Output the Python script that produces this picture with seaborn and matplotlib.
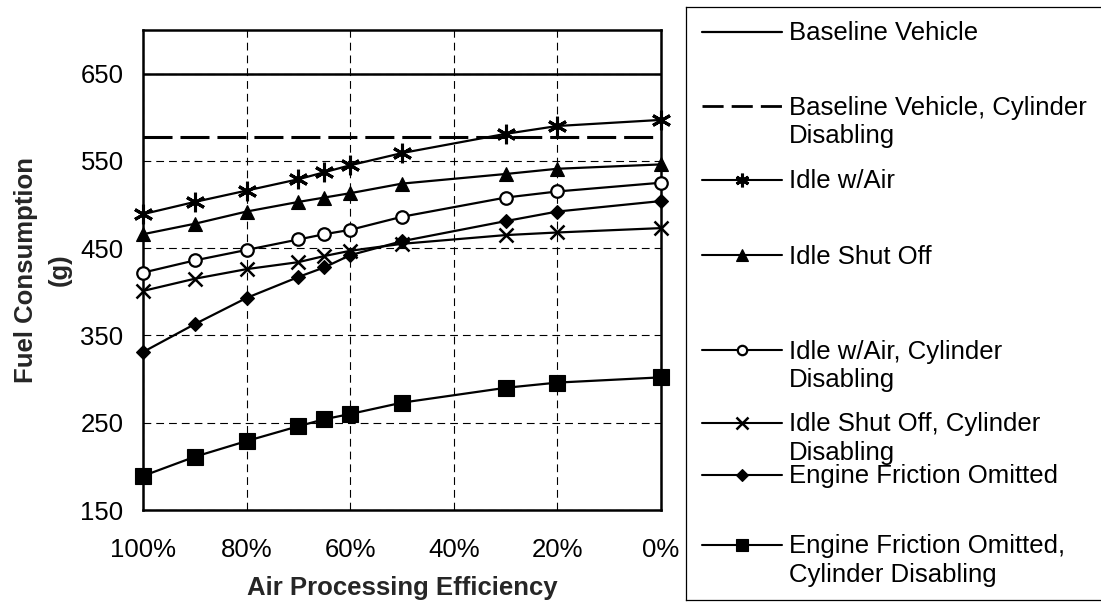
import matplotlib
matplotlib.use("Agg")
import matplotlib.pyplot as plt
from matplotlib.ticker import MultipleLocator, FixedLocator
import numpy as np
import pandas as pd
import seaborn as sns

# ---- data -------------------------------------------------------------
efficiency = [100, 90, 80, 70, 65, 60, 50, 30, 20, 0]          # Air processing efficiency, %
baseline = 650                                                  # Baseline vehicle, g
baseline_cyl = 577                                              # Baseline vehicle w/ cylinder disabling, g
idle_air = [489, 503, 516, 529, 537, 545, 559, 581, 590, 597]
idle_off = [466, 478, 492, 503, 508, 513, 524, 535, 541, 546]
idle_air_cyl = [422, 436, 448, 460, 466, 471, 486, 508, 515, 525]
idle_off_cyl = [401, 415, 426, 434, 441, 447, 455, 465, 468, 473]
friction = [331, 363, 393, 417, 428, 442, 458, 481, 492, 504]
friction_cyl = [189, 211, 229, 246, 254, 260, 273, 290, 296, 302]

x_ticks = [100, 80, 60, 40, 20, 0]
y_ticks = [150, 250, 350, 450, 550, 650]

labels = [
    "Baseline Vehicle",
    "Baseline Vehicle, Cylinder\nDisabling",
    "Idle w/Air",
    "Idle Shut Off",
    "Idle w/Air, Cylinder\nDisabling",
    "Idle Shut Off, Cylinder\nDisabling",
    "Engine Friction Omitted",
    "Engine Friction Omitted,\nCylinder Disabling",
]

# ---- style ------------------------------------------------------------
sns.set_style("white")
plt.rcParams["font.family"] = ["Liberation Sans", "DejaVu Sans"]
FS = 18.5

asterisk = (6, 2, 0)
series = [
    (idle_air,     dict(marker=asterisk, markersize=14, markeredgewidth=2.2)),
    (idle_off,     dict(marker="^", markersize=10, markeredgewidth=0.8)),
    (idle_air_cyl, dict(marker="o", markersize=9, markerfacecolor="white", markeredgewidth=1.6)),
    (idle_off_cyl, dict(marker="x", markersize=10, markeredgewidth=1.8)),
    (friction,     dict(marker="D", markersize=7, markeredgewidth=0.8)),
    (friction_cyl, dict(marker="s", markersize=11, markeredgewidth=0.8)),
]

W, H = 1101, 602
fig = plt.figure(figsize=(W / 100, H / 100), dpi=100)
ax = fig.add_axes([143 / W, 1 - 510 / H, (661 - 143) / W, (510 - 30) / H])

# ---- plot -------------------------------------------------------------
ax.axhline(baseline, color="black", lw=1.8, zorder=3)
ax.axhline(baseline_cyl, color="black", lw=2.2, dashes=(9.5, 2.6), zorder=3)
for values, style in series:
    df = pd.DataFrame({"eff": efficiency, "fuel": values})
    sns.lineplot(data=df, x="eff", y="fuel", ax=ax, color="black", lw=1.6,
                 markeredgecolor="black", clip_on=False, zorder=4, **style)

ax.set_xlim(100, 0)
ax.set_ylim(150, 700)
ax.xaxis.set_major_locator(FixedLocator(x_ticks))
ax.set_xticklabels([f"{v}%" for v in x_ticks])
ax.xaxis.set_minor_locator(MultipleLocator(4))
ax.yaxis.set_major_locator(FixedLocator(y_ticks))
ax.yaxis.set_minor_locator(MultipleLocator(20))

ax.tick_params(which="both", direction="in", color="black", width=1.2,
               labelsize=FS, labelcolor="black")
ax.tick_params(axis="x", which="both", length=6, pad=20)
ax.tick_params(axis="y", which="both", length=6, pad=14)

ax.grid(True, which="major", color="black", lw=0.8, linestyle=(0, (7, 4.5)))
for s in ax.spines.values():
    s.set_color("black")
    s.set_linewidth(1.8)
    s.set_visible(True)

ax.set_xlabel("Air Processing Efficiency", fontsize=FS, fontweight="bold")
ax.set_ylabel("Fuel Consumption\n(g)", fontsize=FS, fontweight="bold", linespacing=1.55)
ax.xaxis.set_label_coords(0.5, -0.138)
ax.yaxis.set_label_coords(-0.137, 0.5)

# ---- legend panel -----------------------------------------------------
lx0, lx1, ly0, ly1 = 686, 1130, 600, 7
leg = fig.add_axes([lx0 / W, 1 - ly0 / H, (lx1 - lx0) / W, (ly0 - ly1) / H])
leg.set_xlim(lx0, lx1)
leg.set_ylim(ly0, ly1)
leg.set_xticks([])
leg.set_yticks([])
for s in leg.spines.values():
    s.set_color("black")
    s.set_linewidth(0.9)

handle_y = [32, 106, 180, 255, 350, 423, 475, 545]
hx0, hx1, tx = 702, 782, 789
leg.plot([hx0, hx1], [handle_y[0], handle_y[0]], color="black", lw=1.6)
leg.plot([hx0, hx1], [handle_y[1], handle_y[1]], color="black", lw=2.0, dashes=(7.6, 2.9))
legend_marker_scale = [0.7, 0.8, 0.75, 0.8, 0.9, 0.8]
for hy, (values, style), k in zip(handle_y[2:], series, legend_marker_scale):
    st = dict(style)
    st["markersize"] = style["markersize"] * k
    leg.plot([hx0, hx1], [hy, hy], color="black", lw=1.5)
    leg.plot([(hx0 + hx1) / 2], [hy], color="black", markeredgecolor="black", **st)
for hy, lab in zip(handle_y, labels):
    leg.text(tx, hy - 10.5, lab, fontsize=FS, va="top", ha="left",
             color="black", linespacing=1.22)

fig.savefig("out.png", dpi=100)
